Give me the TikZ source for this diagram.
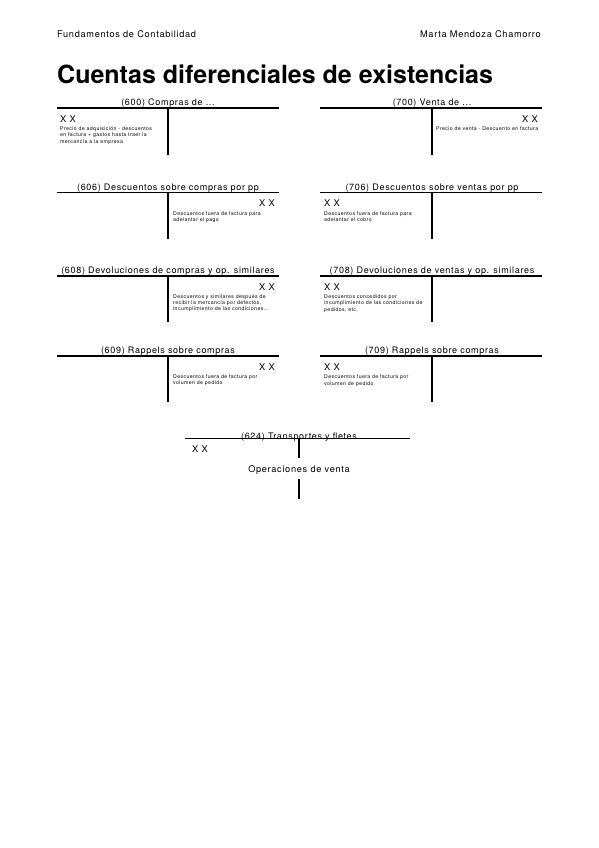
\documentclass[tikz,border=0pt]{standalone}
\usepackage{fontspec}
\setmainfont[LetterSpace=7.5]{TeX Gyre Heros}
\usetikzlibrary{
    positioning % posicionamento relativo de nós
}

\begin{document}
\begin{tikzpicture}[
    x=1pt, y=-1pt,
    header/.style={
        inner sep=0pt,
        font=\fontsize{9.2}{10}\selectfont
    },
    heading/.style={
        anchor=west,
        inner sep=0pt,
        font=\fontsize{25}{28}\selectfont\bfseries\addfontfeatures{LetterSpace=0}
    },
    acctitle/.style={
        anchor=base,
        inner sep=0pt,
        font=\fontsize{9}{10}\selectfont
    },
    amount/.style={
        inner sep=0pt,
        font=\fontsize{9.3}{10}\selectfont
    },
    note/.style={
        anchor=north west,
        align=left,
        inner sep=0pt,
        font=\fontsize{5.2}{6.1}\selectfont
    },
    tline/.style={
        line width=1.2pt,
        draw=black
    }
]

% Página
\fill[white] (0,0) rectangle (599,848);
\useasboundingbox (0,0) rectangle (599,848);

% Cabecera
\node[header, anchor=west] (course) at (57,34) {Fundamentos de Contabilidad};
\node[header, anchor=east] (author) at (541,34) {Marta Mendoza Chamorro};

\node[heading] (title) at (57,74) {Cuentas diferenciales de existencias};

% (600) Compras
\node[acctitle] (t600) at (168,105.5) {(600) Compras de ...};
\draw[tline] (57,108) -- (279,108);
\draw[tline] (168,108) -- (168,155);
\node[amount, anchor=west] (x600) at (60,119) {X X};
\node[note, below=4.3pt of x600.south west, anchor=north west] (n600)
{Precio de adquisición - descuentos\\
en factura + gastos hasta traer la\\
mercancía a la empresa};

% (700) Ventas
\node[acctitle] (t700) at (432,105.5) {(700) Venta de ...};
\draw[tline] (320,108) -- (542,108);
\draw[tline] (432,108) -- (432,155);
\node[amount, anchor=east] (x700) at (538,119) {X X};
\node[note] (n700) at (436,126.5)
{Precio de venta - Descuento en factura};

% (606) Descuentos sobre compras
\node[acctitle] (t606) at (168,190) {(606) Descuentos sobre compras por pp};
\draw[tline] (57,192.5) -- (279,192.5);
\draw[tline] (168,192.5) -- (168,239);
\node[amount, anchor=east] (x606) at (275,203.5) {X X};
\node[note] (n606) at (173,211)
{Descuentos fuera de factura para\\
adelantar el pago};

% (706) Descuentos sobre ventas
\node[acctitle] (t706) at (432,190) {(706) Descuentos sobre ventas por pp};
\draw[tline] (320,192.5) -- (542,192.5);
\draw[tline] (432,192.5) -- (432,239);
\node[amount, anchor=west] (x706) at (324,203.5) {X X};
\node[note, below=4.3pt of x706.south west, anchor=north west] (n706)
{Descuentos fuera de factura para\\
adelantar el cobro};

% (608) Devoluciones de compras
\node[acctitle] (t608) at (168,273.5) {(608) Devoluciones de compras y op. similares};
\draw[tline] (57,276) -- (279,276);
\draw[tline] (168,276) -- (168,322);
\node[amount, anchor=east] (x608) at (275,287) {X X};
\node[note] (n608) at (173,294.5)
{Descuentos y similares después de\\
recibir la mercancía por defectos,\\
incumplimiento de las condiciones...};

% (708) Devoluciones de ventas
\node[acctitle] (t708) at (432,273.5) {(708) Devoluciones de ventas y op. similares};
\draw[tline] (320,276) -- (542,276);
\draw[tline] (432,276) -- (432,322);
\node[amount, anchor=west] (x708) at (324,287) {X X};
\node[note, below=4.3pt of x708.south west, anchor=north west] (n708)
{Descuentos concedidos por\\
incumplimiento de las condiciones de\\
pedidos, etc.};

% (609) Rappels sobre compras
\node[acctitle] (t609) at (168,353.5) {(609) Rappels sobre compras};
\draw[tline] (57,356) -- (279,356);
\draw[tline] (168,356) -- (168,402);
\node[amount, anchor=east] (x609) at (275,367) {X X};
\node[note] (n609) at (173,374.5)
{Descuentos fuera de factura por\\
volumen de pedido};

% (709) Rappels
\node[acctitle] (t709) at (432,353.5) {(709) Rappels sobre compras};
\draw[tline] (320,356) -- (542,356);
\draw[tline] (432,356) -- (432,402);
\node[amount, anchor=west] (x709) at (324,367) {X X};
\node[note, below=4.3pt of x709.south west, anchor=north west] (n709)
{Descuentos fuera de factura por\\
volumen de pedido};

% (624) Transportes
\node[acctitle] (t624) at (299,439.5) {(624) Transportes y fletes};
\draw[tline] (185,438.5) -- (410,438.5);
\draw[tline] (299,438.5) -- (299,458);
\node[amount, anchor=west] (x624) at (192,449) {X X};
\node[header] (ops) at (299,470) {Operaciones de venta};
\draw[tline] (299,479) -- (299,499);

\end{tikzpicture}
\end{document}
